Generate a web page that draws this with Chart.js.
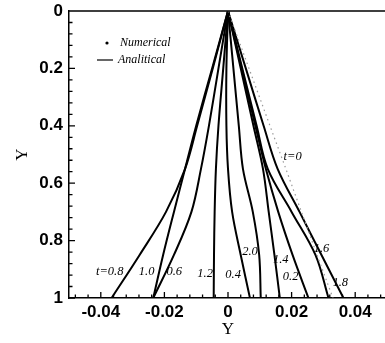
<!DOCTYPE html>
<html>
<head>
<meta charset="utf-8">
<script src="https://cdn.jsdelivr.net/npm/chart.js@4.4.1/dist/chart.umd.min.js"></script>
<style>
html,body{margin:0;padding:0;background:#fff;overflow:hidden}
#wrap{width:400px;height:343px}
</style>
</head>
<body>
<div id="wrap"><canvas id="c" width="400" height="343"></canvas></div>
<script>
// ---- data ----
const Y_LEVELS = [0, 0.2, 0.4, 0.55, 0.7, 0.85, 1];
const X_TICKS = [-0.04, -0.02, 0, 0.02, 0.04];
const Y_TICKS = [0, 0.2, 0.4, 0.6, 0.8, 1];

const X_T0  = [0, 0.0066, 0.0132, 0.0182, 0.0231, 0.0280, 0.0330];
const X_T02 = [0, 0.0043, 0.0086, 0.0119, 0.0158, 0.0203, 0.0253];
const X_T04 = [0, -0.0005, -0.0005, 0, 0.0013, 0.0040, 0.0069];
const X_T06 = [0, -0.0030, -0.0060, -0.0085, -0.0115, -0.0170, -0.0235];
const X_T08 = [0, -0.0048, -0.0097, -0.0135, -0.0195, -0.0278, -0.0366];
const X_T10 = [0, -0.0050, -0.0100, -0.0135, -0.0170, -0.0204, -0.0235];
const X_T12 = [0, -0.0015, -0.0030, -0.0038, -0.0042, -0.0044, -0.0045];
const X_T14 = [0, 0.0040, 0.0080, 0.0110, 0.0128, 0.0146, 0.0163];
const X_T16 = [0, 0.0045, 0.0090, 0.0125, 0.0200, 0.0275, 0.0316];
const X_T18 = [0, 0.0056, 0.0112, 0.0156, 0.0225, 0.0294, 0.0363];
const X_T20 = [0, 0.0017, 0.0034, 0.0047, 0.0078, 0.0098, 0.0103];

const CURVE_TEXT = ['t=0', 't=0.8', '1.0', '0.6', '1.2', '0.4', '2.0', '1.4', '0.2', '1.6', '1.8'];
const CURVE_TX   = [0.0203, -0.0372, -0.0256, -0.0169, -0.0072, 0.0016, 0.0069, 0.0166, 0.0197, 0.0294, 0.0353];
const CURVE_TY   = [0.509, 0.909, 0.909, 0.909, 0.916, 0.920, 0.840, 0.868, 0.927, 0.829, 0.948];

const pts = xs => Y_LEVELS.map((y, i) => ({x: xs[i], y}));
const solid = xs => ({data: pts(xs), showLine: true, borderColor: '#000', borderWidth: 2,
  pointRadius: 0, tension: 0.35, fill: false});

const datasets = [
  {data: pts(X_T0), showLine: true, borderColor: '#9a9a9a', borderWidth: 1.2,
   borderDash: [1.5, 3.5], pointRadius: 0, tension: 0, fill: false},
  solid(X_T02), solid(X_T04), solid(X_T06), solid(X_T08), solid(X_T10),
  solid(X_T12), solid(X_T14), solid(X_T16), solid(X_T18), solid(X_T20)
];

const SERIF = '"Liberation Serif", "DejaVu Serif", serif';
const SANS = '"Liberation Sans", Arial, sans-serif';

// inward ticks, top frame line, legend, curve labels
const decor = {
  id: 'decor',
  afterDraw(chart) {
    const {ctx, chartArea: a, scales: {x, y}} = chart;
    ctx.save();
    ctx.strokeStyle = '#000';
    ctx.lineWidth = 1.3;
    ctx.beginPath();
    ctx.moveTo(a.left, a.top); ctx.lineTo(a.right, a.top);
    // x ticks: step 0.004, major every 0.02
    for (let k = -12; k <= 12; k++) {
      const px = x.getPixelForValue(k * 0.004);
      const len = k % 5 === 0 ? 6 : 3.5;
      ctx.moveTo(px, a.bottom); ctx.lineTo(px, a.bottom - len);
    }
    // y ticks: step 0.04, major every 0.2
    for (let k = 0; k <= 25; k++) {
      const py = y.getPixelForValue(k * 0.04);
      const len = k % 5 === 0 ? 6 : 3.5;
      ctx.moveTo(a.left, py); ctx.lineTo(a.left + len, py);
    }
    ctx.stroke();

    // legend
    ctx.fillStyle = '#000';
    ctx.beginPath();
    ctx.arc(a.left + 38, a.top + 32, 1.6, 0, Math.PI * 2);
    ctx.fill();
    ctx.lineWidth = 1.2;
    ctx.beginPath();
    ctx.moveTo(a.left + 28, a.top + 49); ctx.lineTo(a.left + 44, a.top + 49);
    ctx.stroke();
    ctx.font = 'italic 12px ' + SERIF;
    ctx.textBaseline = 'middle';
    ctx.textAlign = 'left';
    ctx.fillText('Numerical', a.left + 51, a.top + 32);
    ctx.fillText('Analitical', a.left + 49, a.top + 49);

    // curve labels
    ctx.font = 'italic 12.5px ' + SERIF;
    ctx.textAlign = 'center';
    CURVE_TEXT.forEach((t, i) => {
      ctx.fillText(t, x.getPixelForValue(CURVE_TX[i]), y.getPixelForValue(CURVE_TY[i]));
    });
    ctx.restore();
  }
};

const tickFont = {family: SANS, size: 17, weight: 'bold'};

new Chart(document.getElementById('c'), {
  type: 'scatter',
  data: {datasets},
  options: {
    responsive: false,
    animation: false,
    layout: {padding: {top: 11, right: 13, left: 0, bottom: 0}},
    plugins: {legend: {display: false}, tooltip: {enabled: false}},
    scales: {
      x: {
        type: 'linear', min: -0.05, max: 0.05,
        afterBuildTicks: s => { s.ticks = X_TICKS.map(v => ({value: v})); },
        afterFit: s => { s.height = 45; s.paddingLeft = 0; s.paddingRight = 0; },
        ticks: {
          callback: v => v === 0 ? '0' : v.toFixed(2),
          font: tickFont, color: '#000', padding: 4,
          maxRotation: 0, autoSkip: false
        },
        grid: {display: false, drawTicks: false},
        border: {display: true, color: '#000', width: 1.5},
        title: {display: true, text: 'Y', color: '#000',
          font: {family: SERIF, size: 17}, padding: {top: 0, bottom: 3}}
      },
      y: {
        type: 'linear', min: 0, max: 1, reverse: true,
        afterBuildTicks: s => { s.ticks = Y_TICKS.map(v => ({value: v})); },
        afterFit: s => { s.width = 69; s.paddingTop = 0; s.paddingBottom = 0; },
        ticks: {
          callback: v => (v === 0 || v === 1) ? String(v) : v.toFixed(1),
          font: tickFont, color: '#000', padding: 6, autoSkip: false
        },
        grid: {display: false, drawTicks: false},
        border: {display: true, color: '#000', width: 1.5},
        title: {display: true, text: 'Y', color: '#000',
          font: {family: SERIF, size: 17}, padding: {top: 12, bottom: 0}}
      }
    }
  },
  plugins: [decor]
});
</script>
</body>
</html>
